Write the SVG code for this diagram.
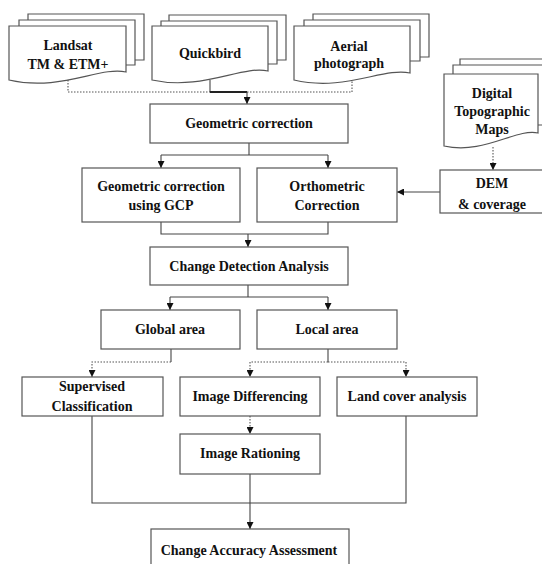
<svg xmlns="http://www.w3.org/2000/svg" width="542" height="564" viewBox="0 0 542 564">
<defs>
<marker id="ah" viewBox="0 0 8 8" refX="8" refY="4" markerWidth="7" markerHeight="7" markerUnits="userSpaceOnUse" orient="auto">
<path d="M0,0 L8,4 L0,8 Z" fill="#111"/>
</marker>
<style>
.box{fill:#fff;stroke:#555;stroke-width:1.2}
.doc{fill:#fff;stroke:#555;stroke-width:1.2}
.sheet{fill:none;stroke:#555;stroke-width:1.2}
.t{font-family:'Liberation Serif','DejaVu Serif','Times New Roman',serif;font-weight:bold;font-size:14px;fill:#111;text-anchor:middle}
.c{fill:none;stroke:#444;stroke-width:1.1}
.d{fill:none;stroke:#555;stroke-width:1.1;stroke-dasharray:1.5 1.5}
.a{marker-end:url(#ah)}
</style>
</defs>
<rect width="542" height="564" fill="#fff"/>

<g id="connectors">
<path class="d" d="M68,80 V92 H210"/>
<path class="d" d="M247,92 H352 V80"/>
<path class="c" d="M210,80 V92"/>
<path class="c" d="M210,92 H247" style="stroke-width:2;stroke:#222"/>
<path class="c a" d="M247,92 V104"/>
<path class="c" d="M249,143 V155 M161,155 H328"/>
<path class="c a" d="M161,155 V168"/>
<path class="c a" d="M328,155 V168"/>
<path class="c" d="M161,222 V234 H328 V222"/>
<path class="c a" d="M248,234 V247"/>
<path class="c a" d="M440,192 H397"/>
<path class="d a" d="M493,147 V170"/>
<path class="c" d="M248,285 V297 M170,297 H328"/>
<path class="c a" d="M170,297 V310"/>
<path class="c a" d="M328,297 V310"/>
<path class="c" d="M171,349 V362"/>
<path class="d a" d="M171,362 H92 V377"/>
<path class="c" d="M328,349 V362"/>
<path class="d a" d="M328,362 H250 V377"/>
<path class="d a" d="M328,362 H406 V377"/>
<path class="d a" d="M250,416 V434"/>
<path class="c" d="M92,416 V503 H406 V416"/>
<path class="c a" d="M250,474 V529"/>
</g>

<g id="landsat">
<path class="sheet" d="M28,20 V14 H144 V60 H135"/>
<path class="sheet" d="M19,26 V20 H135 V65 H126"/>
<path class="doc" d="M9,26 H126 V72 C100,66 60,92 9,80 Z"/>
<text class="t" font-family="Liberation Serif, serif" x="68" y="50">Landsat</text>
<text class="t" font-family="Liberation Serif, serif" x="68" y="69">TM &amp; ETM+</text>
</g>

<g id="quickbird">
<path class="sheet" d="M169,21 V15 H286 V60 H277"/>
<path class="sheet" d="M161,26 V21 H277 V64 H268"/>
<path class="doc" d="M152,26 H268 V71 C242,65 202,91 152,80 Z"/>
<text class="t" font-family="Liberation Serif, serif" x="210" y="58">Quickbird</text>
</g>

<g id="aerial">
<path class="sheet" d="M313,20 V14 H429 V57 H420"/>
<path class="sheet" d="M304,26 V20 H420 V61 H410"/>
<path class="doc" d="M294,26 H410 V73 C384,67 344,92 294,80 Z"/>
<text class="t" font-family="Liberation Serif, serif" x="349" y="51">Aerial</text>
<text class="t" font-family="Liberation Serif, serif" x="349" y="68">photograph</text>
</g>

<g id="topo">
<path class="sheet" d="M460,65 V59 H545"/>
<path class="sheet" d="M453,74 V65 H545 M544,65 V125 H538"/>
<path class="doc" d="M444,74 H538 V133 C516,128 484,155 444,146 Z"/>
<text class="t" font-family="Liberation Serif, serif" x="492" y="98">Digital</text>
<text class="t" font-family="Liberation Serif, serif" x="492" y="116">Topographic</text>
<text class="t" font-family="Liberation Serif, serif" x="492" y="134">Maps</text>
</g>

<g id="geocorr">
<rect class="box" x="150" y="104" width="198" height="39"/>
<text class="t" font-family="Liberation Serif, serif" x="249" y="128">Geometric correction</text>
</g>

<g id="gcp">
<rect class="box" x="82" y="168" width="158" height="54"/>
<text class="t" font-family="Liberation Serif, serif" x="161" y="191">Geometric correction</text>
<text class="t" font-family="Liberation Serif, serif" x="161" y="210">using GCP</text>
</g>

<g id="ortho">
<rect class="box" x="257" y="168" width="140" height="54"/>
<text class="t" font-family="Liberation Serif, serif" x="327" y="191">Orthometric</text>
<text class="t" font-family="Liberation Serif, serif" x="327" y="210">Correction</text>
</g>

<g id="dem">
<rect class="box" x="440" y="170" width="110" height="43"/>
<text class="t" font-family="Liberation Serif, serif" x="492" y="188">DEM</text>
<text class="t" font-family="Liberation Serif, serif" x="492" y="209">&amp; coverage</text>
</g>

<g id="cda">
<rect class="box" x="150" y="247" width="198" height="38"/>
<text class="t" font-family="Liberation Serif, serif" x="249" y="271">Change Detection Analysis</text>
</g>

<g id="global">
<rect class="box" x="101" y="310" width="139" height="39"/>
<text class="t" font-family="Liberation Serif, serif" x="170" y="334">Global area</text>
</g>

<g id="local">
<rect class="box" x="257" y="310" width="140" height="39"/>
<text class="t" font-family="Liberation Serif, serif" x="327" y="334">Local area</text>
</g>

<g id="supervised">
<rect class="box" x="22" y="377" width="141" height="39"/>
<text class="t" font-family="Liberation Serif, serif" x="92" y="391">Supervised</text>
<text class="t" font-family="Liberation Serif, serif" x="92" y="411">Classification</text>
</g>

<g id="imgdiff">
<rect class="box" x="180" y="377" width="140" height="39"/>
<text class="t" font-family="Liberation Serif, serif" x="250" y="401">Image Differencing</text>
</g>

<g id="landcover">
<rect class="box" x="337" y="377" width="140" height="39"/>
<text class="t" font-family="Liberation Serif, serif" x="407" y="401">Land cover analysis</text>
</g>

<g id="rationing">
<rect class="box" x="180" y="434" width="140" height="40"/>
<text class="t" font-family="Liberation Serif, serif" x="250" y="458">Image Rationing</text>
</g>

<g id="accuracy">
<rect class="box" x="151" y="529" width="198" height="45"/>
<text class="t" font-family="Liberation Serif, serif" x="249" y="555">Change Accuracy Assessment</text>
</g>
</svg>
